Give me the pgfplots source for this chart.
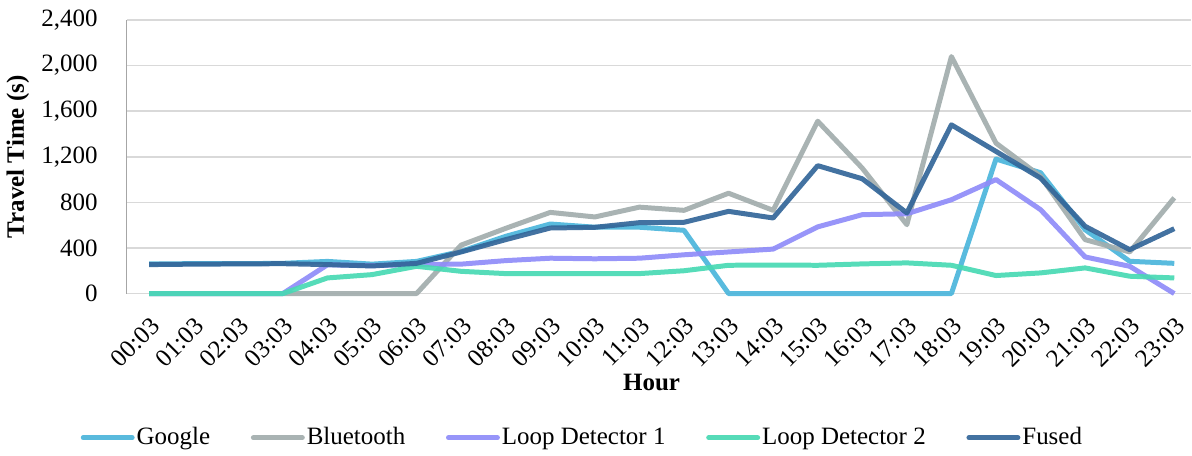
\documentclass[border=0pt]{standalone}
\usepackage{pgfplots}
\pgfplotsset{compat=1.18}
\usepackage{fontspec}
\setmainfont{Liberation Serif}
\definecolor{cGoogle}{HTML}{4BB5DB}
\definecolor{cBlue}{HTML}{A2ADAD}
\definecolor{cLD1}{HTML}{8F8CF9}
\definecolor{cLD2}{HTML}{48D9B3}
\definecolor{cFused}{HTML}{336699}
\definecolor{gridc}{HTML}{D9D9D9}
\begin{document}
\begin{tikzpicture}
\begin{axis}[
  name=ax,
  scale only axis,
  width=533pt, height=137pt,
  xmin=-0.5, xmax=23.38,
  ymin=0, ymax=2400,
  ytick={0,400,...,2400},
  xtick={0,...,23},
  xticklabels={00:03,01:03,02:03,03:03,04:03,05:03,06:03,07:03,08:03,09:03,10:03,11:03,12:03,13:03,14:03,15:03,16:03,17:03,18:03,19:03,20:03,21:03,22:03,23:03},
  xticklabel style={xshift=0pt, yshift=-11pt, rotate=45, anchor=north east, inner sep=0pt, font=\fontsize{12.5}{14}\selectfont},
  yticklabel style={font=\fontsize{12.5}{14}\selectfont, inner sep=0pt, xshift=-14.5pt},
  /pgf/number format/assume math mode=true,
  /pgf/number format/1000 sep={,},
  scaled y ticks=false,
  major tick length=0pt,
  ymajorgrids, grid style={gridc, line width=0.8pt},
  axis lines*=left,
  x axis line style={gridc, line width=0.8pt, -},
  y axis line style={draw=gray!70, line width=0.6pt, -},
  ylabel={\textbf{Travel Time (s)}},
  xlabel={\textbf{Hour}},
  label style={font=\fontsize{12.5}{14}\selectfont},
  ylabel style={at={(axis description cs:-0.1023,0.5)}, anchor=center},
  xlabel style={at={(axis description cs:0.493,-0.325)}, anchor=center},
  legend columns=5,
  legend style={at={(axis description cs:0.428,-0.527)}, anchor=center, draw=none, font=\fontsize{12.5}{14}\selectfont,
    /tikz/every even column/.append style={column sep=19.4pt}, inner sep=0pt,
    /tikz/every node/.append style={inner xsep=1pt}},
  legend image code/.code={\draw[line width=2.5pt, line cap=round] (1.25pt,0pt) -- (25.75pt,0pt);},
  every axis plot/.append style={line width=2.5pt, line join=round, opacity=0.92},
  clip=false,
]
\addplot[cGoogle] coordinates {(0,260)(1,262)(2,262)(3,265)(4,282)(5,258)(6,282)(7,370)(8,502)(9,610)(10,582)(11,582)(12,555)(13,0)(14,0)(15,0)(16,0)(17,0)(18,0)(19,1180)(20,1060)(21,560)(22,283)(23,265)};
\addlegendentry{Google}
\addplot[cBlue] coordinates {(0,0)(1,0)(2,0)(3,0)(4,0)(5,0)(6,0)(7,425)(8,572)(9,712)(10,672)(11,758)(12,730)(13,880)(14,730)(15,1512)(16,1100)(17,604)(18,2079)(19,1320)(20,1028)(21,473)(22,365)(23,840)};
\addlegendentry{Bluetooth}
\addplot[cLD1] coordinates {(0,0)(1,0)(2,0)(3,0)(4,252)(5,245)(6,255)(7,258)(8,289)(9,310)(10,305)(11,310)(12,340)(13,365)(14,390)(15,585)(16,692)(17,700)(18,823)(19,1000)(20,736)(21,321)(22,239)(23,0)};
\addlegendentry{Loop Detector 1}
\addplot[cLD2] coordinates {(0,0)(1,0)(2,0)(3,0)(4,137)(5,166)(6,239)(7,195)(8,175)(9,175)(10,175)(11,175)(12,200)(13,248)(14,250)(15,248)(16,260)(17,269)(18,248)(19,158)(20,181)(21,225)(22,152)(23,137)};
\addlegendentry{Loop Detector 2}
\addplot[cFused] coordinates {(0,254)(1,258)(2,260)(3,262)(4,254)(5,242)(6,265)(7,365)(8,473)(9,575)(10,581)(11,622)(12,625)(13,721)(14,663)(15,1122)(16,1007)(17,707)(18,1480)(19,1247)(20,1013)(21,590)(22,385)(23,569)};
\addlegendentry{Fused}
\end{axis}
\path ([shift={(-63pt,-81pt)}]ax.south west) rectangle ([shift={(0pt,10pt)}]ax.north east);
\end{tikzpicture}
\end{document}
